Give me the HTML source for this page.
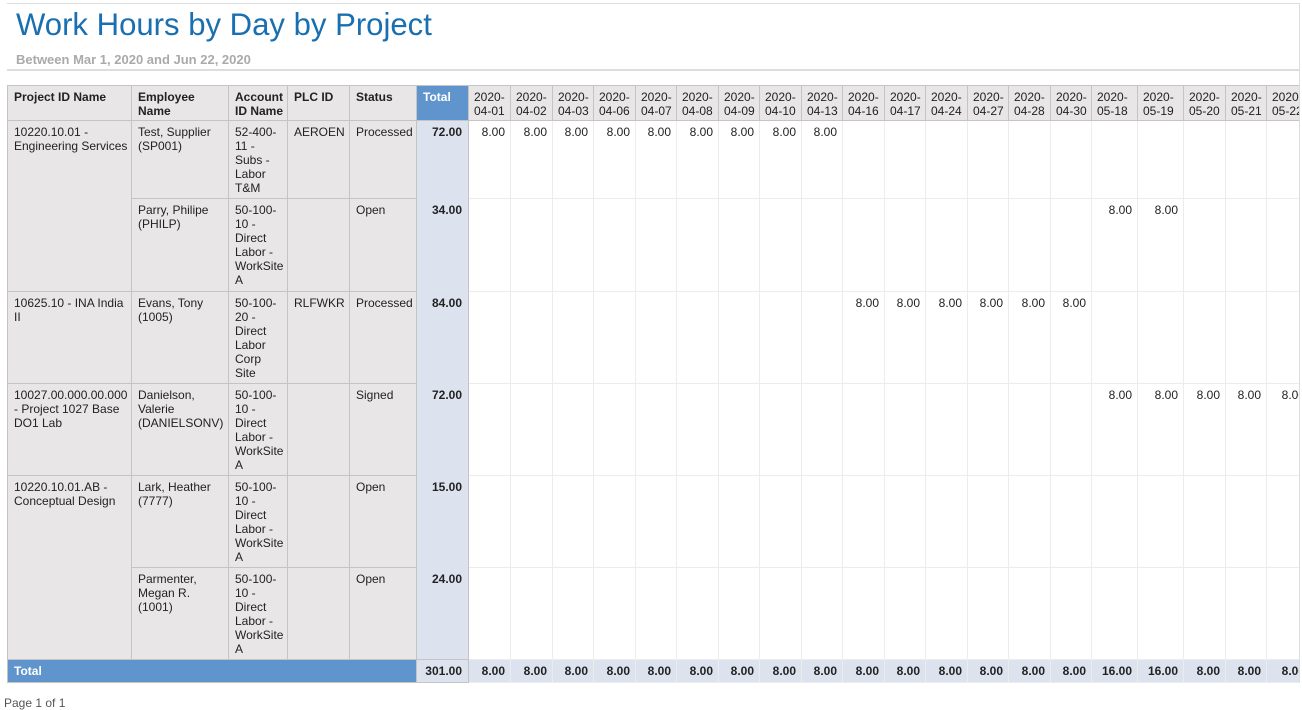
<!DOCTYPE html>
<html><head><meta charset="utf-8"><style>
body{margin:0;background:#fff;font-family:"Liberation Sans",Arial,sans-serif;width:1302px;height:709px;overflow:hidden;position:relative}
.top{position:absolute;left:7px;top:3px;width:1293px;border-top:1px solid #ddd}
.vr{position:absolute;left:1299px;top:3px;height:680px;border-left:1px solid #ddd}
h1{position:absolute;left:16px;top:7px;margin:0;font-weight:normal;font-size:31.1px;color:#1a6fb0}
.sub{position:absolute;left:16px;top:52px;font-size:13px;font-weight:bold;color:#aaa}
.hr{position:absolute;left:7px;top:69px;width:1293px;border-top:2px solid #ddd}
.wrap{position:absolute;left:7px;top:85px;width:1292px;overflow:hidden}
table{border-collapse:collapse;table-layout:fixed;font-size:12px;color:#222;width:1303px}
td,th{padding:4px 0 0 6px;vertical-align:top;text-align:left;line-height:14px;overflow:hidden}
th{font-weight:bold;background:#e8e6e6;border:1px solid #c4c4c4}
.f{background:#e8e6e6;border:1px solid #c4c4c4}
.a{white-space:nowrap}
.t{background:#dde3ee;border-left:1px solid #c4c4c4;border-right:1px solid #c4c4c4;text-align:right;font-weight:bold;padding-right:6px}
th.t{background:#6094cc;color:#fff;text-align:left;border-bottom:1px solid #c4c4c4}
th.d{font-weight:normal;text-align:left;padding:4px 0 0 5px;white-space:normal}
td.d{border:1px solid #ececec;text-align:right;padding-right:5px}
tr.tot td{background:#6094cc;color:#fff;font-weight:bold;padding-top:4px;border:1px solid #c4c4c4}
tr.tot td.v{background:#dde3ee;color:#222;text-align:right;padding-right:5px;border:1px solid #ececec}
tr.tot td.tv{background:#dde3ee;color:#222;text-align:right;padding-right:6px}
.pg{position:absolute;left:4px;top:696px;font-size:12px;color:#555}
</style></head><body>
<div class="top"></div><div class="vr"></div>
<h1>Work Hours by Day by Project</h1>
<div class="sub">Between Mar 1, 2020 and Jun 22, 2020</div>
<div class="hr"></div>
<div class="wrap"><table>
<colgroup><col style="width:124px"><col style="width:97px"><col style="width:59px"><col style="width:62px"><col style="width:67px"><col style="width:52px">
<col style="width:42px"><col style="width:42px"><col style="width:41px"><col style="width:42px"><col style="width:41px"><col style="width:42px"><col style="width:41px"><col style="width:42px"><col style="width:41px"><col style="width:42px"><col style="width:41px"><col style="width:42px"><col style="width:41px"><col style="width:42px"><col style="width:41px"><col style="width:46px"><col style="width:46px"><col style="width:42px"><col style="width:41px"><col style="width:44px"></colgroup>
<tr style="height:35px"><th>Project ID Name</th><th>Employee Name</th><th>Account ID&nbsp;Name</th><th>PLC ID</th><th>Status</th><th class="t">Total</th>
<th class="d">2020-04-01</th><th class="d">2020-04-02</th><th class="d">2020-04-03</th><th class="d">2020-04-06</th><th class="d">2020-04-07</th><th class="d">2020-04-08</th><th class="d">2020-04-09</th><th class="d">2020-04-10</th><th class="d">2020-04-13</th><th class="d">2020-04-16</th><th class="d">2020-04-17</th><th class="d">2020-04-24</th><th class="d">2020-04-27</th><th class="d">2020-04-28</th><th class="d">2020-04-30</th><th class="d">2020-05-18</th><th class="d">2020-05-19</th><th class="d">2020-05-20</th><th class="d">2020-05-21</th><th class="d">2020-05-22</th></tr>
<tr style="height:78px"><td class="f" rowspan="2">10220.10.01 - Engineering&nbsp;Services</td><td class="f">Test, Supplier (SP001)</td><td class="f a">52-400-<br>11 -<br>Subs -<br>Labor<br>T&amp;M</td><td class="f">AEROEN</td><td class="f">Processed</td><td class="t">72.00</td>
<td class="d">8.00</td><td class="d">8.00</td><td class="d">8.00</td><td class="d">8.00</td><td class="d">8.00</td><td class="d">8.00</td><td class="d">8.00</td><td class="d">8.00</td><td class="d">8.00</td><td class="d"></td><td class="d"></td><td class="d"></td><td class="d"></td><td class="d"></td><td class="d"></td><td class="d"></td><td class="d"></td><td class="d"></td><td class="d"></td><td class="d"></td></tr>
<tr style="height:93px"><td class="f">Parry, Philipe (PHILP)</td><td class="f a">50-100-<br>10 -<br>Direct<br>Labor -<br>WorkSite<br>A</td><td class="f"></td><td class="f">Open</td><td class="t">34.00</td>
<td class="d"></td><td class="d"></td><td class="d"></td><td class="d"></td><td class="d"></td><td class="d"></td><td class="d"></td><td class="d"></td><td class="d"></td><td class="d"></td><td class="d"></td><td class="d"></td><td class="d"></td><td class="d"></td><td class="d"></td><td class="d">8.00</td><td class="d">8.00</td><td class="d"></td><td class="d"></td><td class="d"></td></tr>
<tr style="height:92px"><td class="f">10625.10 - INA India II</td><td class="f">Evans, Tony (1005)</td><td class="f a">50-100-<br>20 -<br>Direct<br>Labor<br>Corp<br>Site</td><td class="f">RLFWKR</td><td class="f">Processed</td><td class="t">84.00</td>
<td class="d"></td><td class="d"></td><td class="d"></td><td class="d"></td><td class="d"></td><td class="d"></td><td class="d"></td><td class="d"></td><td class="d"></td><td class="d">8.00</td><td class="d">8.00</td><td class="d">8.00</td><td class="d">8.00</td><td class="d">8.00</td><td class="d">8.00</td><td class="d"></td><td class="d"></td><td class="d"></td><td class="d"></td><td class="d"></td></tr>
<tr style="height:92px"><td class="f">10027.00.000.00.000 - Project 1027 Base DO1 Lab</td><td class="f">Danielson, Valerie (DANIELSONV)</td><td class="f a">50-100-<br>10 -<br>Direct<br>Labor -<br>WorkSite<br>A</td><td class="f"></td><td class="f">Signed</td><td class="t">72.00</td>
<td class="d"></td><td class="d"></td><td class="d"></td><td class="d"></td><td class="d"></td><td class="d"></td><td class="d"></td><td class="d"></td><td class="d"></td><td class="d"></td><td class="d"></td><td class="d"></td><td class="d"></td><td class="d"></td><td class="d"></td><td class="d">8.00</td><td class="d">8.00</td><td class="d">8.00</td><td class="d">8.00</td><td class="d">8.00</td></tr>
<tr style="height:92px"><td class="f" rowspan="2">10220.10.01.AB - Conceptual Design</td><td class="f">Lark, Heather (7777)</td><td class="f a">50-100-<br>10 -<br>Direct<br>Labor -<br>WorkSite<br>A</td><td class="f"></td><td class="f">Open</td><td class="t">15.00</td>
<td class="d"></td><td class="d"></td><td class="d"></td><td class="d"></td><td class="d"></td><td class="d"></td><td class="d"></td><td class="d"></td><td class="d"></td><td class="d"></td><td class="d"></td><td class="d"></td><td class="d"></td><td class="d"></td><td class="d"></td><td class="d"></td><td class="d"></td><td class="d"></td><td class="d"></td><td class="d"></td></tr>
<tr style="height:92px"><td class="f">Parmenter, Megan R. (1001)</td><td class="f a">50-100-<br>10 -<br>Direct<br>Labor -<br>WorkSite<br>A</td><td class="f"></td><td class="f">Open</td><td class="t">24.00</td>
<td class="d"></td><td class="d"></td><td class="d"></td><td class="d"></td><td class="d"></td><td class="d"></td><td class="d"></td><td class="d"></td><td class="d"></td><td class="d"></td><td class="d"></td><td class="d"></td><td class="d"></td><td class="d"></td><td class="d"></td><td class="d"></td><td class="d"></td><td class="d"></td><td class="d"></td><td class="d"></td></tr>
<tr class="tot" style="height:23px"><td colspan="5">Total</td><td class="tv">301.00</td>
<td class="v">8.00</td><td class="v">8.00</td><td class="v">8.00</td><td class="v">8.00</td><td class="v">8.00</td><td class="v">8.00</td><td class="v">8.00</td><td class="v">8.00</td><td class="v">8.00</td><td class="v">8.00</td><td class="v">8.00</td><td class="v">8.00</td><td class="v">8.00</td><td class="v">8.00</td><td class="v">8.00</td><td class="v">16.00</td><td class="v">16.00</td><td class="v">8.00</td><td class="v">8.00</td><td class="v">8.00</td></tr>
</table></div>
<div class="pg">Page 1 of 1</div>
</body></html>
